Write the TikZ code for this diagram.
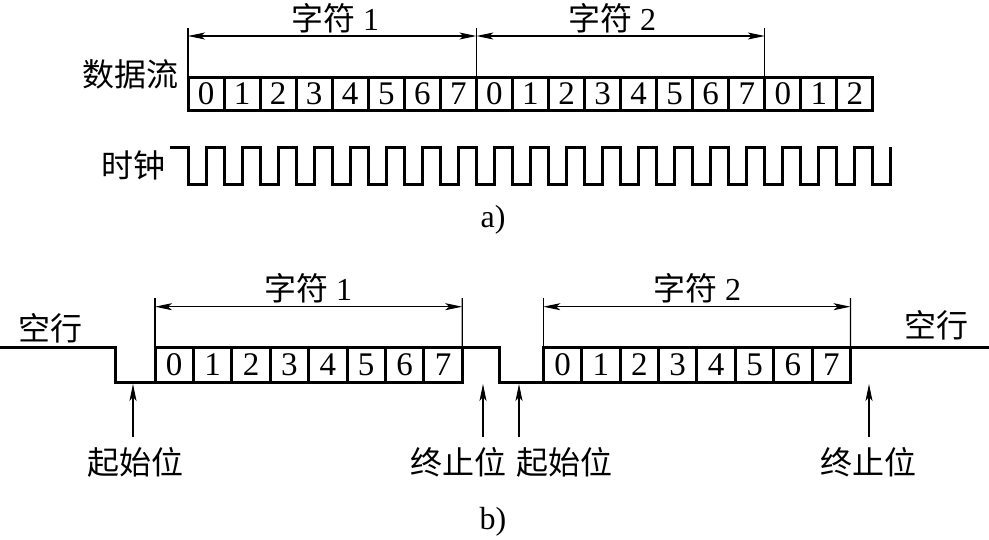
\documentclass[tikz,border=0pt]{standalone}
\usepackage{fontspec}
\setmainfont{Liberation Serif}
\newfontfamily\cjk{Noto Sans CJK SC}
\usetikzlibrary{arrows.meta}
\begin{document}
\begin{tikzpicture}[x=1pt,y=-1pt,
  cell/.style={draw, line width=3pt, outer sep=0pt, minimum width=36.05pt, minimum height=33pt, inner sep=0pt, font=\fontsize{33}{33}\selectfont},
  bcell/.style={cell, minimum width=38.4pt, minimum height=35pt},
  wave/.style={line width=3pt, line join=miter},
  dim/.style={line width=1.1pt},
  dimarrow/.style={line width=1.1pt, {Stealth[length=17pt,width=7pt,inset=4pt]}-{Stealth[length=17pt,width=7pt,inset=4pt]}},
  uparrow/.style={line width=1.1pt, -{Stealth[length=17pt,width=7pt,inset=4pt]}},
  lab/.style={font=\fontsize{32}{32}\selectfont, inner sep=0pt}
]
\useasboundingbox (0,0) rectangle (989,539);

% ---------- a) ----------
\foreach \d [count=\i from 0] in {0,1,2,3,4,5,6,7,0,1,2,3,4,5,6,7,0,1,2}
  \node[cell] (t\i) at ({188+36.05*(\i+0.5)},93.5) {\d};

\node[lab] (ds) at (130,74) {\cjk 数据流};
\node[lab] (clk) at (133,165) {\cjk 时钟};

\coordinate (e0) at (188,28);
\coordinate (e1) at ({188+36.05*8},28);
\coordinate (e2) at ({188+36.05*16},28);
\draw[dim] (e0) -- (t0.north west);
\draw[dim] (e1) -- (t8.north west);
\draw[dim] (e2) -- (t16.north west);
\coordinate (a0) at (188,36);
\coordinate (a1) at ({188+36.05*8},36);
\coordinate (a2) at ({188+36.05*16},36);
\draw[dimarrow] (a0) -- (a1);
\draw[dimarrow] (a1) -- (a2);
\node[lab] (c1) at (335,18) {{\cjk 字符} 1};
\node[lab] (c2) at (612,18) {{\cjk 字符} 2};

\coordinate (clkstart) at (170,147);
\draw[wave] (clkstart)
  \foreach \k in {0,...,19} {
    -- ({188+36.05*\k},147) -- ({188+36.05*\k},184)
    -- ({206+36.05*\k},184) -- ({206+36.05*\k},147)
  };

\node[lab] (la) at (493,220) {a)};

% ---------- b) ----------
\foreach \d [count=\i from 0] in {0,1,2,3,4,5,6,7}
  \node[bcell] (p\i) at ({155+38.4*(\i+0.5)},364.5) {\d};
\foreach \d [count=\i from 0] in {0,1,2,3,4,5,6,7}
  \node[bcell] (q\i) at ({543.3+38.4*(\i+0.5)},364.5) {\d};

\coordinate (w0) at (0,347);
\coordinate (w1) at (115,347);
\coordinate (w2) at (499,347);
\coordinate (w3) at (989,347);
\draw[wave] (w0) -- (w1) -- (w1 |- p0.south west) -- (p0.south west);
\draw[wave] (p7.north east) -- (w2) -- (w2 |- q0.south west) -- (q0.south west);
\draw[wave] (q7.north east) -- (w3);

\node[lab] (idle1) at (51,328) {\cjk 空行};
\node[lab] (idle2) at (936,325) {\cjk 空行};

\coordinate (b0) at (155,298);
\coordinate (b1) at (462.2,298);
\coordinate (b2) at (543.3,298);
\coordinate (b3) at (850.5,298);
\draw[dim] (b0) -- (p0.north west);
\draw[dim] (b1) -- (p7.north east);
\draw[dim] (b2) -- (q0.north west);
\draw[dim] (b3) -- (q7.north east);
\coordinate (m0) at (155,306.7);
\coordinate (m1) at (462.2,306.7);
\coordinate (m2) at (543.3,306.7);
\coordinate (m3) at (850.5,306.7);
\draw[dimarrow] (m0) -- (m1);
\draw[dimarrow] (m2) -- (m3);
\node[lab] (d1) at (308,288) {{\cjk 字符} 1};
\node[lab] (d2) at (697,288) {{\cjk 字符} 2};

\node[lab] (s1) at (135,462) {\cjk 起始位};
\node[lab] (f1) at (458,462) {\cjk 终止位};
\node[lab] (s2) at (564,462) {\cjk 起始位};
\node[lab] (f2) at (868,462) {\cjk 终止位};

\coordinate (u1a) at (133,437);  \coordinate (u1b) at (133,384);
\coordinate (u2a) at (483,437);  \coordinate (u2b) at (483,384);
\coordinate (u3a) at (519,437);  \coordinate (u3b) at (519,384);
\coordinate (u4a) at (869,437);  \coordinate (u4b) at (869,384);
\draw[uparrow] (u1a) -- (u1b);
\draw[uparrow] (u2a) -- (u2b);
\draw[uparrow] (u3a) -- (u3b);
\draw[uparrow] (u4a) -- (u4b);

\node[lab] (lb) at (493,522) {b)};
\end{tikzpicture}
\end{document}
